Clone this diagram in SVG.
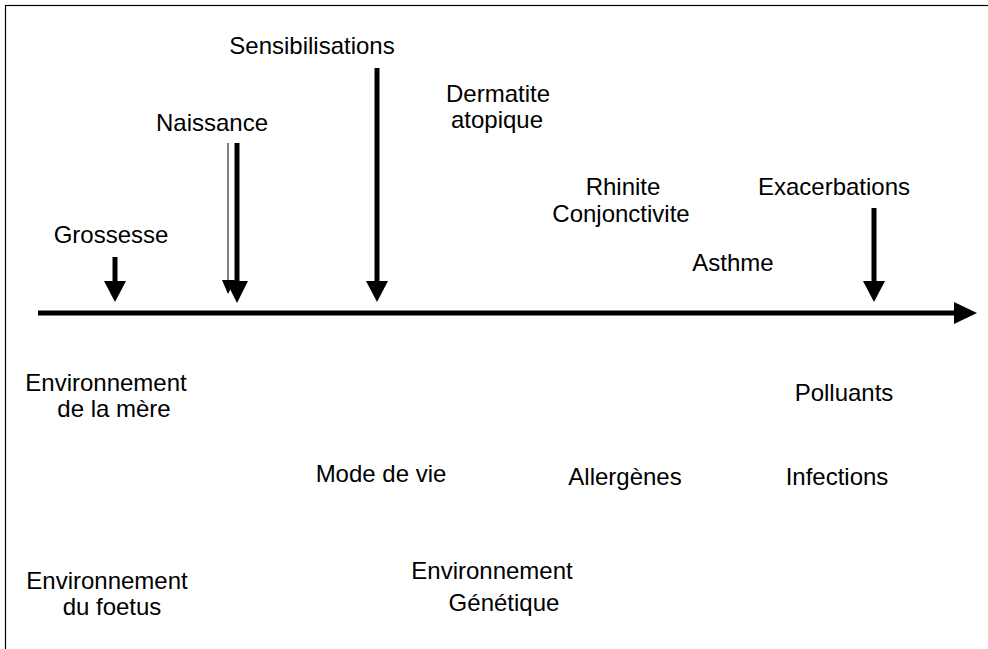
<svg xmlns="http://www.w3.org/2000/svg" width="988" height="649" viewBox="0 0 988 649">
<style>
text{font-family:"Liberation Sans",Arial,sans-serif;font-size:24px;fill:#000;text-anchor:middle}
.ln{stroke:#000;stroke-width:5;fill:none}
.hd{fill:#000}
</style>
<rect x="0" y="0" width="988" height="649" fill="#fff"/>
<rect x="5.5" y="5.5" width="1000" height="700" fill="none" stroke="#000" stroke-width="1.2"/>
<g id="connectors">
<g id="axis"><line class="ln" x1="38" y1="313" x2="957" y2="313" stroke-width="4.5"/><polygon class="hd" points="954,302 977,313 954,324"/></g>
<g id="arr-grossesse"><line class="ln" x1="115" y1="257" x2="115" y2="284"/><polygon class="hd" points="104,281 126,281 115,302"/></g>
<g id="arr-naissance-thin"><line x1="228" y1="143" x2="228" y2="284" stroke="#555" stroke-width="1.5"/><polygon class="hd" points="222,280 235,280 228,294"/></g>
<g id="arr-naissance"><line class="ln" x1="237" y1="143" x2="237" y2="285"/><polygon class="hd" points="226,281 248,281 237,303"/></g>
<g id="arr-sensibilisations"><line class="ln" x1="377" y1="68" x2="377" y2="284"/><polygon class="hd" points="366,281 388,281 377,302"/></g>
<g id="arr-exacerbations"><line class="ln" x1="874" y1="208" x2="874" y2="284"/><polygon class="hd" points="863,281 885,281 874,302"/></g>
</g>
<g id="n-sensibilisations"><text x="312" y="54">Sensibilisations</text></g>
<g id="n-naissance"><text x="212" y="131">Naissance</text></g>
<g id="n-grossesse"><text x="111" y="243">Grossesse</text></g>
<g id="n-dermatite"><text x="498" y="102">Dermatite</text><text x="497" y="128">atopique</text></g>
<g id="n-rhinite"><text x="623" y="195">Rhinite</text><text x="621" y="222">Conjonctivite</text></g>
<g id="n-asthme"><text x="733" y="271">Asthme</text></g>
<g id="n-exacerbations"><text x="834" y="195">Exacerbations</text></g>
<g id="n-env-mere"><text x="106" y="391">Environnement</text><text x="114" y="417">de la mère</text></g>
<g id="n-mode"><text x="381" y="482">Mode de vie</text></g>
<g id="n-allergenes"><text x="625" y="485">Allergènes</text></g>
<g id="n-polluants"><text x="844" y="401">Polluants</text></g>
<g id="n-infections"><text x="837" y="485">Infections</text></g>
<g id="n-env-foetus"><text x="107" y="589">Environnement</text><text x="112" y="615">du foetus</text></g>
<g id="n-env-genetique"><text x="492" y="579">Environnement</text><text x="504" y="611">Génétique</text></g>
</svg>
